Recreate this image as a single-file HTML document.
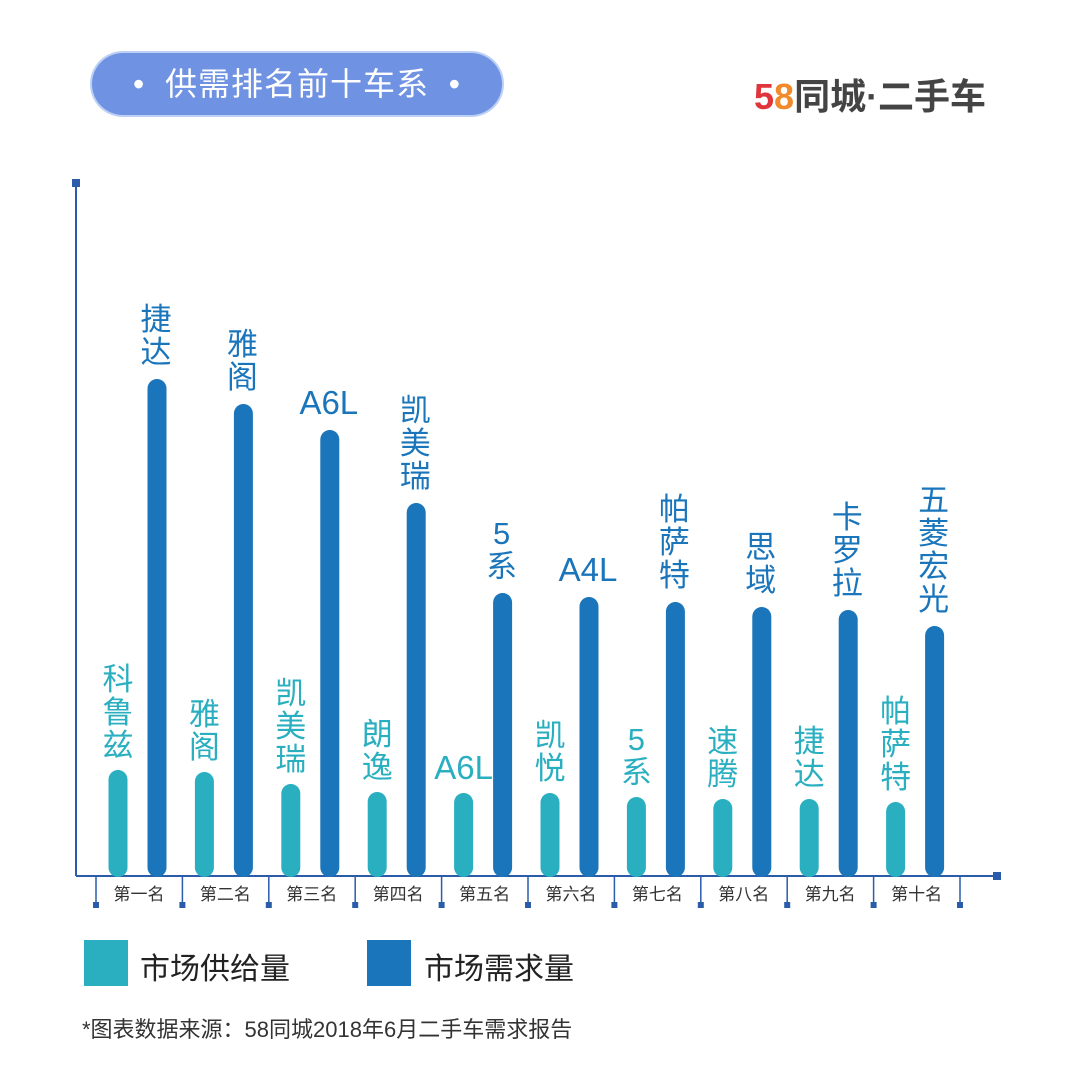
<!DOCTYPE html>
<html><head><meta charset="utf-8"><style>
body{margin:0;width:1080px;height:1080px;background:#fff;overflow:hidden;font-family:"Liberation Sans","Noto Sans CJK SC",sans-serif;position:relative}
.pill{position:absolute;left:92px;top:53px;width:410px;height:62px;border-radius:31px;background:#6f93e2;color:#fff;font-size:32px;line-height:62px;text-align:center;box-shadow:0 0 0 2px #bcd0f5;letter-spacing:1px}
.logo{position:absolute;left:754px;top:68px;font-size:36px;color:#444;white-space:nowrap;font-weight:bold}
.leg{position:absolute;width:44px;height:46px}
.lt{position:absolute;font-size:30px;color:#222}
.foot{position:absolute;left:82px;top:1012px;font-size:22px;color:#333}
</style></head><body>
<div class="pill">•&nbsp;&nbsp;供需排名前十车系&nbsp;&nbsp;•</div>
<div class="logo"><span style="color:#e0353b">5</span><span style="color:#f08a2b">8</span>同城·二手车</div>
<svg id="chart" width="1080" height="1080" style="position:absolute;left:0;top:0"></svg>
<div class="leg" style="left:84px;top:940px;background:#2aafc0"></div>
<div class="lt" style="left:140px;top:944px">市场供给量</div>
<div class="leg" style="left:367px;top:940px;background:#1a75bb"></div>
<div class="lt" style="left:424px;top:944px">市场需求量</div>
<div class="foot">*图表数据来源：58同城2018年6月二手车需求报告</div>
<script>
const categories=["第一名","第二名","第三名","第四名","第五名","第六名","第七名","第八名","第九名","第十名"];
const supplyNames=["科鲁兹","雅阁","凯美瑞","朗逸","A6L","凯悦","5系","速腾","捷达","帕萨特"];
const demandNames=["捷达","雅阁","A6L","凯美瑞","5系","A4L","帕萨特","思域","卡罗拉","五菱宏光"];
const supply=[106,104,92,84,83,83,79,77,77,74];
const demand=[497,472,446,373,283,279,274,269,266,250];
const NS="http://www.w3.org/2000/svg";
const svg=document.getElementById('chart');
const base=876, pxPer=1;
const y=v=>base-v*pxPer;
const gx=i=>96+i*86.4;
function mk(t,a){const e=document.createElementNS(NS,t);for(const k in a)e.setAttribute(k,a[k]);svg.appendChild(e);return e;}
let e;
e=mk('line',{x1:76,y1:183,x2:76,y2:876,stroke:'#2a5caa','stroke-width':2});


e=mk('rect',{x:72,y:179,width:8,height:8,fill:'#2a5caa'});


e=mk('line',{x1:76,y1:876,x2:995,y2:876,stroke:'#2a5caa','stroke-width':2});


e=mk('rect',{x:993,y:872,width:8,height:8,fill:'#2a5caa'});


for(let i=0;i<=categories.length;i++){
  const x=gx(i);
  e=mk('line',{x1:x,y1:876,x2:x,y2:904,stroke:'#2a5caa','stroke-width':1.5});
  
  
  e=mk('rect',{x:x-3,y:902,width:6,height:6,fill:'#2a5caa'});
  
  
}
function vlabel(txt,cx,bottom,color,name){
  const latin=/^[A-Z0-9]+$/.test(txt);
  if(latin){
    e=mk('text',{x:cx,y:bottom,'text-anchor':'middle','font-size':33,fill:color});
    e.textContent=txt;
  } else {
    const chars=[...txt];const lh=33;
    e=mk('text',{x:cx,'text-anchor':'middle','font-size':31,fill:color});
    chars.forEach((c,k)=>{const t=document.createElementNS(NS,'tspan');t.setAttribute('x',cx);t.setAttribute('y',bottom-(chars.length-1-k)*lh);t.textContent=c;e.appendChild(t);});
  }
  
  
}
categories.forEach((c,i)=>{
  const sx=gx(i)+22, dx=gx(i)+61, w=19;
  const sy=y(supply[i]), dy=y(demand[i]);
  e=mk('rect',{x:sx-w/2,y:sy,width:w,height:base-sy+1,rx:9.5,fill:'#2aafc0'});
  
  
  e=mk('rect',{x:dx-w/2,y:dy,width:w,height:base-dy+1,rx:9.5,fill:'#1a75bb'});
  
  
  vlabel(supplyNames[i],sx,sy-14,'#2aafc0','supply-label');
  vlabel(demandNames[i],dx-1,dy-16,'#1a75bb','demand-label');
  e=mk('text',{x:gx(i)+43,y:900,'text-anchor':'middle','font-size':17,fill:'#333'});
  e.textContent=c;
  
  
});
</script>
</body></html>
